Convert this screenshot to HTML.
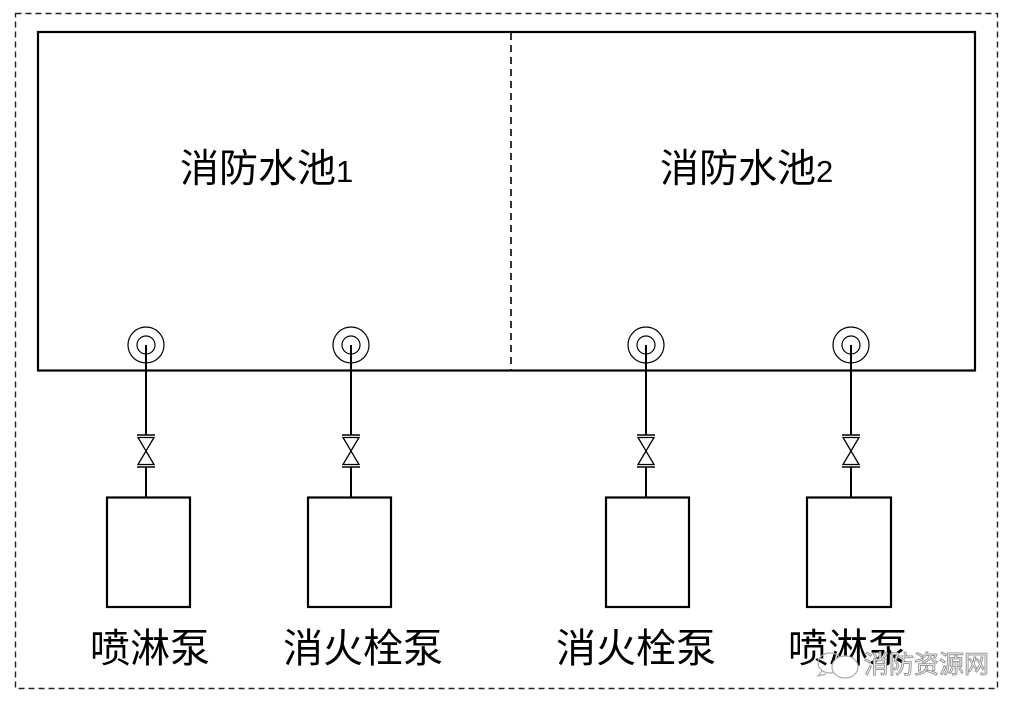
<!DOCTYPE html>
<html>
<head>
<meta charset="utf-8">
<style>
html,body{margin:0;padding:0;background:#fff;}
svg{display:block;}
text{font-family:"Liberation Sans","Noto Sans CJK SC",sans-serif;}
</style>
</head>
<body>
<svg width="1020" height="708" viewBox="0 0 1020 708" xmlns="http://www.w3.org/2000/svg">
<rect width="1020" height="708" fill="#fff"/>
<!-- outer dashed boundary -->
<rect x="15.5" y="13.5" width="982" height="675" fill="none" stroke="#222" stroke-width="1.4" stroke-dasharray="6 4"/>
<!-- tank -->
<rect x="38" y="32" width="937" height="338.5" fill="none" stroke="#000" stroke-width="2.2"/>
<line x1="511" y1="33" x2="511" y2="370" stroke="#000" stroke-width="1.6" stroke-dasharray="7 5"/>

<text x="180" y="182" font-size="39" fill="#000">消防水池<tspan font-size="31">1</tspan></text>
<text x="660" y="182" font-size="39" fill="#000">消防水池<tspan font-size="31">2</tspan></text>

<g fill="none" stroke="#000">
  <!-- unit 1 -->
  <g transform="translate(146,0)">
    <circle cx="0" cy="345" r="18" stroke-width="1.2"/>
    <circle cx="0" cy="345" r="9" stroke-width="1.2"/>
    <line x1="0" y1="345" x2="0" y2="435" stroke-width="2"/>
    <line x1="0" y1="467" x2="0" y2="497" stroke-width="2"/>
    <line x1="-9" y1="435" x2="9" y2="435" stroke-width="1.6"/>
    <line x1="-9" y1="467" x2="9" y2="467" stroke-width="1.6"/>
    <polygon points="-8,437.5 8,437.5 0,451" stroke-width="1.3"/>
    <polygon points="-8,464.5 8,464.5 0,451" stroke-width="1.3"/>
  </g>
  <rect x="107" y="497.5" width="83" height="109.5" stroke-width="2.2"/>

  <!-- unit 2 -->
  <g transform="translate(351,0)">
    <circle cx="0" cy="345" r="18" stroke-width="1.2"/>
    <circle cx="0" cy="345" r="9" stroke-width="1.2"/>
    <line x1="0" y1="345" x2="0" y2="435" stroke-width="2"/>
    <line x1="0" y1="467" x2="0" y2="497" stroke-width="2"/>
    <line x1="-9" y1="435" x2="9" y2="435" stroke-width="1.6"/>
    <line x1="-9" y1="467" x2="9" y2="467" stroke-width="1.6"/>
    <polygon points="-8,437.5 8,437.5 0,451" stroke-width="1.3"/>
    <polygon points="-8,464.5 8,464.5 0,451" stroke-width="1.3"/>
  </g>
  <rect x="308" y="497.5" width="83" height="109.5" stroke-width="2.2"/>

  <!-- unit 3 -->
  <g transform="translate(646,0)">
    <circle cx="0" cy="345" r="18" stroke-width="1.2"/>
    <circle cx="0" cy="345" r="9" stroke-width="1.2"/>
    <line x1="0" y1="345" x2="0" y2="435" stroke-width="2"/>
    <line x1="0" y1="467" x2="0" y2="497" stroke-width="2"/>
    <line x1="-9" y1="435" x2="9" y2="435" stroke-width="1.6"/>
    <line x1="-9" y1="467" x2="9" y2="467" stroke-width="1.6"/>
    <polygon points="-8,437.5 8,437.5 0,451" stroke-width="1.3"/>
    <polygon points="-8,464.5 8,464.5 0,451" stroke-width="1.3"/>
  </g>
  <rect x="606" y="497.5" width="83" height="109.5" stroke-width="2.2"/>

  <!-- unit 4 -->
  <g transform="translate(851,0)">
    <circle cx="0" cy="345" r="18" stroke-width="1.2"/>
    <circle cx="0" cy="345" r="9" stroke-width="1.2"/>
    <line x1="0" y1="345" x2="0" y2="435" stroke-width="2"/>
    <line x1="0" y1="467" x2="0" y2="497" stroke-width="2"/>
    <line x1="-9" y1="435" x2="9" y2="435" stroke-width="1.6"/>
    <line x1="-9" y1="467" x2="9" y2="467" stroke-width="1.6"/>
    <polygon points="-8,437.5 8,437.5 0,451" stroke-width="1.3"/>
    <polygon points="-8,464.5 8,464.5 0,451" stroke-width="1.3"/>
  </g>
  <rect x="807" y="497.5" width="84" height="109.5" stroke-width="2.2"/>
</g>

<text x="90" y="662" font-size="40" fill="#000">喷淋泵</text>
<text x="283" y="662" font-size="40" fill="#000">消火栓泵</text>
<text x="556" y="662" font-size="40" fill="#000">消火栓泵</text>
<text x="788" y="662" font-size="40" fill="#000">喷淋泵</text>

<!-- watermark -->
<g fill="none" stroke="#aaa" stroke-width="1.2">
  <ellipse cx="830" cy="663" rx="12" ry="10"/>
  <ellipse cx="845" cy="667" rx="13" ry="11" fill="#fff"/>
  <path d="M822 671 l-4 5 l8 -2"/>
</g>
<text x="864" y="673" font-size="25" fill="#fff" stroke="#999" stroke-width="1">消防资源网</text>
</svg>
</body>
</html>
